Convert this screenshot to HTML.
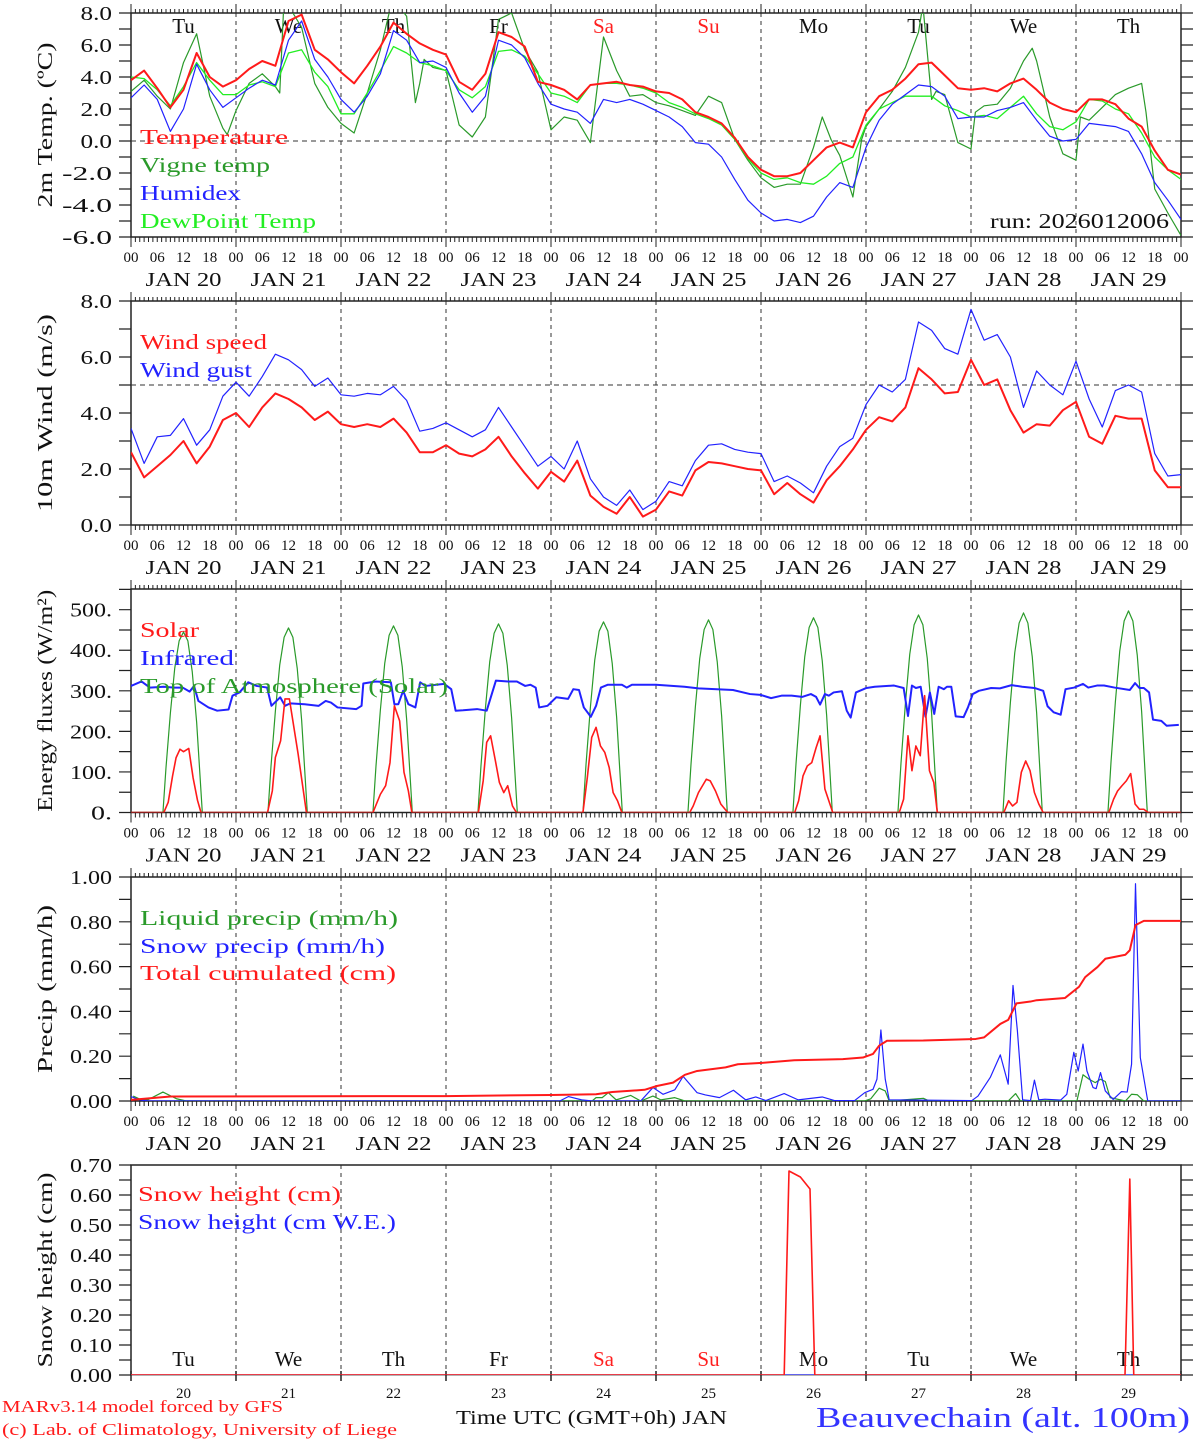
<!DOCTYPE html>
<html><head><meta charset="utf-8"><title>MAR forecast Beauvechain</title>
<style>
html,body{margin:0;padding:0;background:#fff;}
svg{display:block;font-family:"Liberation Serif",serif;}
</style></head>
<body>
<svg id="chart" width="1194" height="1440" viewBox="0 0 1194 1440" xmlns="http://www.w3.org/2000/svg"></svg>
<script>
// ---------- DATA ----------
const dayNames=['Tu','We','Th','Fr','Sa','Su','Mo','Tu','We','Th'];
const dayNums=[20,21,22,23,24,25,26,27,28,29];
const hourLabels=['00','06','12','18'];
// panel 1 (3-hourly, h0..h240)
const tempVals=[3.8,4.4,3.3,2.1,3.2,5.5,4.0,3.4,3.8,4.5,5.0,4.7,7.5,7.9,5.7,5.1,4.3,3.6,4.7,5.9,7.4,6.7,6.1,5.7,5.4,3.7,3.2,4.2,6.8,6.5,5.9,3.7,3.5,3.2,2.6,3.5,3.6,3.7,3.5,3.4,3.1,
3.0,2.6,1.8,1.5,1.1,0.2,-1.0,-1.8,-2.2,-2.2,-2.0,-1.2,-0.4,-0.1,-0.4,1.8,2.8,3.2,3.9,4.8,4.9,4.1,3.3,3.2,3.3,3.1,3.6,3.9,3.2,2.4,2.0,1.8,2.6,2.6,2.3,1.4,0.9,-0.6,-1.8,-2.1];
const dewVals=[4.0,3.9,3.2,2.2,3.4,4.9,3.8,2.9,2.9,3.5,3.7,3.4,5.5,5.7,4.3,3.4,1.7,1.7,3.0,4.4,5.9,5.5,4.9,4.7,4.4,3.2,2.7,3.4,5.6,5.7,5.3,4.2,3.0,2.8,2.4,3.5,3.6,3.6,3.5,3.3,3.0,
2.4,2.1,1.7,1.4,1.0,0.1,-1.1,-2.0,-2.4,-2.3,-2.6,-2.7,-2.2,-1.4,-1.0,1.0,2.0,2.4,2.8,2.8,2.8,2.2,1.9,1.5,1.6,1.4,2.1,2.8,1.7,0.9,0.7,1.2,2.6,2.5,2.0,1.7,0.5,-1.0,-1.8,-2.4];
const humidexVals=[2.7,3.5,2.6,0.6,2.0,4.8,3.2,2.1,2.7,3.3,3.8,3.5,6.3,7.5,5.1,4.0,2.6,1.8,2.8,4.2,6.9,6.3,4.9,5.0,4.6,3.0,1.8,2.8,6.3,6.0,5.2,3.6,2.3,2.0,1.8,1.1,2.6,2.4,2.6,2.3,1.9,
1.5,0.9,-0.1,-0.2,-1.0,-2.4,-3.7,-4.5,-5.0,-4.9,-5.1,-4.7,-3.5,-2.6,-2.9,-0.4,1.3,2.3,2.9,3.5,3.4,2.8,1.4,1.5,1.5,1.9,2.1,2.4,1.3,0.3,0.0,0.1,1.1,1.0,0.9,0.6,-0.8,-2.6,-3.7,-4.9];
const vigneHours=[0,3,6,9,12,15,18,21,22,24,27,30,33,34,35,36,37,39,42,45,48,51,54,57,59,60,61,63,65,66,67,69,72,75,78,81,84,87,90,93,96,99,102,105,108,111,114,117,120,
123,126,129,132,135,138,141,144,147,150,153,156,158,160,162,165,167,168,171,174,177,180,181,183,184,186,189,192,193,195,198,201,204,206,207,210,213,216,217,219,222,225,228,231,232,234,237,240];
const vigneVals=[3.1,3.8,2.8,2.0,4.9,6.7,2.8,0.8,0.4,1.9,3.6,4.2,3.4,3.0,9,9,8,7.1,3.6,2.1,1.1,0.5,3.0,5.7,8,9,8.5,7.8,2.4,3.6,5.1,4.6,4.4,1.0,0.25,1.5,7.6,8.0,5.7,4.3,0.7,1.5,1.3,-0.1,6.5,4.4,2.8,2.9,2.4,
2.2,1.9,1.6,2.8,2.4,0.1,-1.2,-2.3,-2.9,-2.7,-2.7,-0.4,1.5,0.1,-0.9,-3.5,0.1,0.9,2.0,3.1,4.6,6.8,8.5,2.6,3.1,2.9,-0.1,-0.5,1.8,2.2,2.3,3.3,5.0,5.8,5.0,1.5,-0.8,-1.2,1.5,1.3,2.1,2.9,3.3,3.6,1.8,-3.0,-4.5,-5.9];
// panel 2 (3-hourly)
const windVals=[2.6,1.7,2.1,2.5,3.0,2.2,2.8,3.75,4.0,3.5,4.2,4.7,4.5,4.2,3.75,4.05,3.6,3.5,3.6,3.5,3.8,3.3,2.6,2.6,2.85,2.55,2.45,2.7,3.15,2.45,1.85,1.3,1.9,1.55,2.3,1.05,0.65,0.4,1.0,0.3,0.55,
1.2,1.05,1.95,2.25,2.2,2.1,2.0,1.95,1.1,1.5,1.1,0.8,1.6,2.1,2.7,3.4,3.85,3.7,4.2,5.6,5.2,4.7,4.75,5.9,5.0,5.2,4.1,3.3,3.6,3.55,4.1,4.4,3.15,2.9,3.9,3.8,3.8,1.95,1.35,1.35];
const gustVals=[3.45,2.2,3.15,3.2,3.8,2.85,3.4,4.6,5.1,4.6,5.3,6.1,5.9,5.55,4.95,5.25,4.65,4.6,4.7,4.65,4.95,4.45,3.35,3.45,3.65,3.4,3.15,3.4,4.2,3.5,2.8,2.1,2.45,2.0,3.0,1.65,1.0,0.7,1.25,0.55,0.85,
1.55,1.4,2.3,2.85,2.9,2.7,2.6,2.55,1.55,1.75,1.5,1.15,2.1,2.8,3.1,4.3,5.0,4.75,5.2,7.25,6.95,6.3,6.1,7.7,6.6,6.8,6.0,4.2,5.5,5.0,4.65,5.85,4.5,3.5,4.8,5.0,4.75,2.55,1.75,1.8];
// panel 3
const toaHourOfDay=[7.3,8,9,10,11,12,13,14,15,16.3];
const toaVals=[
[0,111,245,356,423,445,423,347,223,0],
[0,114,250,364,432,455,432,355,228,0],
[0,115,253,368,437,460,437,359,230,0],
[0,116,256,372,442,465,442,363,233,0],
[0,118,259,376,447,470,447,367,235,0],
[0,119,261,380,451,475,451,371,238,0],
[0,120,264,384,456,480,456,374,240,0],
[0,122,268,390,463,487,463,380,244,0],
[0,123,271,394,467,492,467,384,246,0],
[0,124,273,398,472,497,472,388,249,0]];
const solarHours=[0,7.5,8.5,9.5,10.3,11.2,12,13.2,14.2,15.2,16,31.2,32.3,33,34.2,35.2,36.2,38.2,40.1,55.3,57,58.2,59.2,60.2,61.4,62.4,63.4,64.2,
79.4,80.5,81.3,82.2,83.3,84.2,85.2,86.1,87.2,88.1,103.3,104.3,105.3,106.3,107.3,108.3,109.3,110.2,111.2,112.2,127.7,128.5,129.7,131.5,132.4,133.6,134.8,136.4,
151.7,152.6,153.6,154.6,155.6,156.6,157.5,158.6,159.5,160.4,175.6,176.6,177.6,178.5,179.4,180.4,181.4,182.5,183.5,184.3,199.5,200.6,201.5,202.5,203.5,204.5,205.5,206.5,207.5,208.5,
223.5,224.6,225.5,226.5,227.5,228.5,229.5,230.5,231.5,232.5,240];
const solarVals=[0,0,25,90,135,156,150,158,85,30,0,0,53,136,177,280,280,144,0,0,45,66,123,263,226,99,53,0,
0,78,173,189,127,74,49,66,16,0,0,86,185,210,164,148,111,49,29,0,0,16,49,82,78,53,21,0,
0,29,90,115,123,160,189,58,29,0,0,33,189,103,164,140,288,103,74,0,0,29,16,25,99,127,103,49,21,0,
0,33,53,66,78,96,21,8,8,0,0];
const irHours=[0,2.4,4.3,7.5,9.8,11.8,13.4,14.4,15.4,17.7,19.7,22.3,23.2,24.8,26.8,28.7,31.1,32.1,34.1,35.2,36.4,39.7,42.9,44.5,45.7,47.2,51.5,52.7,53.1,55.9,
59.4,60.2,61.1,62.2,63.4,65,66.1,67.3,71.6,73.2,74.2,75.9,79.1,81.3,83.4,86.2,88.2,90.1,91.3,92.5,93.3,95.2,97.2,99.9,101.1,102.4,103.5,105.1,106.3,107.4,
109,112.2,113.3,114.5,120,126.5,129.7,137.6,141.5,143.9,146.3,148.7,151,153.4,155.4,156.6,157.5,158.6,159.5,160.6,162.5,163.6,164.5,165.7,168.1,170,174.4,176.6,177.6,178.5,
179.4,180.5,181.6,182.6,183.6,184.6,185.8,186.5,187.5,188.5,190.3,191.3,192.4,193.8,196.6,198.6,201.3,203.7,206.5,208.5,209.5,210.9,212.5,213.6,215.6,217.6,218.8,220.8,222.4,224.8,
228.3,229.5,230.5,231.5,232.7,233.6,235.5,236.7,239.5];
const irVals=[312,323,308,310,308,308,298,312,275,259,251,254,288,296,321,312,308,263,284,263,269,267,263,275,271,259,255,263,318,323,
321,267,267,300,267,259,321,312,317,304,251,252,255,251,325,323,323,312,315,308,259,263,284,280,304,302,259,236,263,308,
315,315,308,315,315,310,306,302,292,290,282,288,288,285,292,285,266,292,288,296,299,251,234,296,307,310,313,307,238,313,
307,310,236,296,243,310,304,310,310,237,235,259,292,300,307,306,314,310,307,300,262,247,241,304,308,317,308,313,313,308,
302,319,307,307,296,229,226,214,216];
// panel 4
const cumHours=[0,9,72,96,106.3,110,117.4,120.2,123.9,126.6,129.4,135.9,138.7,144.2,151.6,162.7,167.3,169.6,171,172.8,181.1,193.1,195,198.7,200.5,202.4,205.6,207,213.5,216.7,218.1,220.9,222.7,227.3,228.3,229.6,231.5,240];
const cumVals=[0.005,0.02,0.022,0.027,0.03,0.04,0.05,0.067,0.082,0.117,0.134,0.15,0.164,0.17,0.182,0.187,0.194,0.21,0.247,0.269,0.27,0.277,0.284,0.344,0.362,0.436,0.444,0.45,0.46,0.51,0.553,0.598,0.635,0.653,0.673,0.785,0.804,0.804];
const snowPrHours=[0,2,4,98,100,103,105.4,116.5,119.3,121.6,124.3,126.2,129.4,131.3,134.5,137.7,140.5,142.8,145.1,149.3,152.5,158,160.8,165.4,167.7,169.6,170.5,171.4,172.4,173.3,
192.2,193.6,196.4,198.7,200.5,201.6,202.6,203.8,205.6,206.5,207.5,208.9,212.5,213.9,215.5,216.5,217.6,218.5,219.9,220.6,221.6,222.7,224.5,226.4,227.7,228.7,229.6,230.7,232.4,240];
const snowPrVals=[0.02,0.005,0,0,0.02,0.005,0,0,0.06,0.03,0.05,0.11,0.037,0.027,0.015,0.048,0.005,0.018,0.002,0.033,0.005,0.018,0.002,0.002,0.037,0.052,0.097,0.317,0.097,0.005,
0.002,0.022,0.105,0.206,0.075,0.516,0.314,0.005,0.002,0.093,0.005,0.008,0.004,0.03,0.217,0.134,0.254,0.134,0.06,0.055,0.127,0.045,0.007,0.042,0.04,0.164,0.97,0.194,0,0];
const liqHours=[0.5,2.4,3.8,7.3,10.4,12.6,105.4,106.3,107.7,109.1,110.9,114.2,116.5,119.3,121.1,124.3,126.6,167.7,169.1,171,172.4,173.3,181.1,182.5,200.5,202.2,203.3,216.2,217.6,219,220.4,221.6,222.7,223.8,227.3,228.7,230,231.5,240];
const liqVals=[0.022,0.005,0.005,0.04,0.01,0,0,0.015,0.015,0.037,0.005,0.025,0,0.022,0.005,0.015,0,0,0.01,0.057,0.045,0,0.012,0,0,0.033,0,0,0.117,0.097,0.082,0.097,0.087,0.015,0,0.03,0.028,0,0];
// panel 5
const snowHHours=[0,149.3,150.4,153,155.2,156.3,227.2,228.3,229.2,240];
const snowHVals=[0,0,0.68,0.66,0.62,0,0,0.653,0,0];
const snowWEHours=[0,240];
const snowWEVals=[0,0];

// ---------- DRAWING ----------
const NS='http://www.w3.org/2000/svg';
const svg=document.getElementById('chart');
function mk(tag,attrs,parent){const e=document.createElementNS(NS,tag);for(const k in attrs)e.setAttribute(k,attrs[k]);(parent||svg).appendChild(e);return e;}
function txt(str,attrs,parent){const e=mk('text',attrs,parent);e.textContent=str;return e;}
const X0=131,X1=1181;
function xOf(h){return X0+h*(X1-X0)/240;}
const panels=[
 {top:13,bot:237,min:-6,max:8,minor:1,major:2,fmt:v=>v.toFixed(1),title:'2m Temp. (ºC)',tl:165},
 {top:301,bot:525,min:0,max:8,minor:1,major:2,fmt:v=>v.toFixed(1),title:'10m Wind (m/s)',tl:198},
 {top:589,bot:812.5,min:0,max:551,minor:50,major:100,fmt:v=>v+'.',title:'Energy fluxes (W/m²)',tl:222},
 {top:877,bot:1101,min:0,max:1,minor:0.1,major:0.2,fmt:v=>v.toFixed(2),title:'Precip (mm/h)',tl:168},
 {top:1165,bot:1375,min:0,max:0.7,minor:0.05,major:0.1,fmt:v=>v.toFixed(2),title:'Snow height (cm)',tl:195}];
function yOf(p,v){const P=panels[p];return P.bot-(v-P.min)/(P.max-P.min)*(P.bot-P.top);}
const defs=mk('defs',{});
panels.forEach((P,i)=>{const c=mk('clipPath',{id:'clip'+i},defs);mk('rect',{x:X0,y:P.top,width:X1-X0,height:P.bot-P.top},c);});

function series(p,hours,vals,color,w,name){
  let d='';
  for(let i=0;i<vals.length;i++){d+=(i?'L':'M')+xOf(hours[i]).toFixed(2)+','+yOf(p,vals[i]).toFixed(2);}
  const e=mk('path',{d:d,fill:'none',stroke:color,'stroke-width':w,'stroke-linejoin':'round','clip-path':'url(#clip'+p+')'});
  
  
  return e;
}
function step3(n){const a=[];for(let i=0;i<n;i++)a.push(i*3);return a;}
const AX='#222';

panels.forEach((P,p)=>{
  const g=mk('g',{});
  
  
  for(let d=1;d<10;d++){
    const l=mk('line',{x1:xOf(d*24),x2:xOf(d*24),y1:P.top,y2:P.bot,stroke:'#333','stroke-width':1,'stroke-dasharray':'4,4'},g);
    
    
  }
  if(p<4){
    const r=mk('rect',{x:X0,y:P.top,width:X1-X0,height:P.bot-P.top,fill:'none',stroke:AX,'stroke-width':1.5},g);
    
    
    let d='';
    for(let h=0;h<=240;h++){
      const x=xOf(h).toFixed(2);
      const L=(h%24===0)?9:4;
      d+='M'+x+','+P.top+'v-'+L+'M'+x+','+P.bot+'v'+(h%24===0?10:5);
    }
    const t=mk('path',{d:d,stroke:AX,'stroke-width':1,fill:'none'},g);
    
    
    for(let d2=0;d2<10;d2++){
      for(let k=0;k<4;k++){
        const tl=txt(hourLabels[k],{x:xOf(d2*24+k*6),y:P.bot+25,'font-size':15,'text-anchor':'middle',fill:'#111'},g);
        
        
      }
      const dl=txt('JAN  '+dayNums[d2],{x:xOf(d2*24+12),y:P.bot+49,'font-size':20,'text-anchor':'middle',fill:'#111',textLength:76,lengthAdjust:'spacingAndGlyphs'},g);
      
      
    }
    const last=txt('00',{x:xOf(240),y:P.bot+25,'font-size':15,'text-anchor':'middle',fill:'#111'},g);
    
    
  } else {
    const f=mk('path',{d:'M'+X0+','+P.bot+'V'+P.top+'H'+X1+'V'+P.bot,fill:'none',stroke:AX,'stroke-width':1.5},g);
    
    
    const bl=mk('line',{x1:X0,x2:X1,y1:P.bot,y2:P.bot,stroke:'#999','stroke-width':1.5},g);
    
    
    let d='';
    for(let dd=0;dd<=10;dd++){const x=xOf(dd*24).toFixed(2);d+='M'+x+','+(P.bot-4)+'v10';}
    const t=mk('path',{d:d,stroke:AX,'stroke-width':1.5,fill:'none'},g);
    
    
    for(let d2=0;d2<10;d2++){
      const nl=txt(String(dayNums[d2]),{x:xOf(d2*24+12),y:P.bot+23,'font-size':15,'text-anchor':'middle',fill:'#111'},g);
      
      
    }
  }
  let d='';
  const n=Math.round((P.max-P.min)/P.minor+1e-6);
  for(let i=0;i<=n;i++){
    const v=P.min+i*P.minor;const y=yOf(p,v).toFixed(2);
    d+='M'+(X0-12)+','+y+'H'+X0+'M'+X1+','+y+'H'+(X1+12);
  }
  const yt=mk('path',{d:d,stroke:AX,'stroke-width':1.2,fill:'none'},g);
  
  
  const nm=Math.round((P.max-P.min)/P.major+1e-6);
  for(let i=0;i<=nm;i++){
    const v=Math.round((P.min+i*P.major)*1000)/1000;
    if(v>P.max+1e-9)continue;
    const s=P.fmt(v);
    const w=s.length*10.5+(s[0]==='-'?8:0);
    const yl=txt(s,{x:112,y:yOf(p,v)+7,'font-size':20,'text-anchor':'end',fill:'#111',textLength:w,lengthAdjust:'spacingAndGlyphs'},g);
    
    
  }
  const cy=(P.top+P.bot)/2;
  const yTitle=txt('',{x:0,y:0,'font-size':21,'text-anchor':'middle',fill:'#111',textLength:P.tl,lengthAdjust:'spacingAndGlyphs',transform:'translate(52,'+cy+') rotate(-90)'},g);
  yTitle.textContent=P.title;
  
  
});

const ref0=mk('line',{x1:X0,x2:X1,y1:yOf(0,0),y2:yOf(0,0),stroke:'#333','stroke-width':1,'stroke-dasharray':'5,4'});


const ref5=mk('line',{x1:X0,x2:X1,y1:yOf(1,5),y2:yOf(1,5),stroke:'#333','stroke-width':1,'stroke-dasharray':'5,4'});



[26+7,1359+7].forEach((yy,k)=>{
  for(let d=0;d<10;d++){
    const col=(dayNames[d]==='Sa'||dayNames[d]==='Su')?'#ff2020':'#111';
    const dl=txt(dayNames[d],{x:xOf(d*24+12),y:yy,'font-size':21,'text-anchor':'middle',fill:col});
    
    
  }
});

const RED='#ff1a1a',GRN='#2a9a2a',BLU='#2222ff',LIME='#22ee22';
const h81=step3(81);
series(0,vigneHours,vigneVals,GRN,1.2,'vigne-temp-line');
series(0,h81,dewVals,LIME,1.3,'dewpoint-line');
series(0,h81,humidexVals,BLU,1.2,'humidex-line');
series(0,h81,tempVals,RED,2,'temperature-line');
series(1,h81,gustVals,BLU,1.2,'wind-gust-line');
series(1,h81,windVals,RED,2,'wind-speed-line');
const toaH=[],toaV=[];
for(let d=0;d<10;d++){for(let i=0;i<toaHourOfDay.length;i++){toaH.push(d*24+toaHourOfDay[i]);toaV.push(toaVals[d][i]);}}
toaH.unshift(0);toaV.unshift(0);toaH.push(240);toaV.push(0);
series(2,toaH,toaV,GRN,1.2,'toa-solar-line');
series(2,irHours,irVals,BLU,2,'infrared-line');
series(2,solarHours,solarVals,RED,1.6,'solar-line');
series(3,liqHours,liqVals,GRN,1.2,'liquid-precip-line');
series(3,snowPrHours,snowPrVals,BLU,1.2,'snow-precip-line');
series(3,cumHours,cumVals,RED,2,'total-cumulated-line');
series(4,snowWEHours,snowWEVals,BLU,1.2,'snow-we-line');
series(4,snowHHours,snowHVals,RED,1.6,'snow-height-line');

function legend(str,x,yc,color,w,name){
  const e=txt(str,{x:x,y:yc+7,'font-size':21,fill:color,textLength:w,lengthAdjust:'spacingAndGlyphs'});
  
  
}
legend('Temperature',140,137,RED,148,'legend-temperature');
legend('Vigne temp',140,165,GRN,130,'legend-vigne-temp');
legend('Humidex',140,193,BLU,101,'legend-humidex');
legend('DewPoint Temp',140,221,LIME,176,'legend-dewpoint');
legend('run: 2026012006',990,221,'#111',179,'run-label');
legend('Wind speed',140,342,RED,127,'legend-wind-speed');
legend('Wind gust',140,370,BLU,112,'legend-wind-gust');
legend('Solar',140,630,RED,59,'legend-solar');
legend('Infrared',140,658,BLU,94,'legend-infrared');
legend('Top of Atmosphere (Solar)',140,686,GRN,308,'legend-toa');
legend('Liquid precip (mm/h)',140,918,GRN,258,'legend-liquid-precip');
legend('Snow precip (mm/h)',140,946,BLU,245,'legend-snow-precip');
legend('Total cumulated (cm)',140,973,RED,256,'legend-total-cumulated');
legend('Snow height (cm)',138,1194,RED,203,'legend-snow-height');
legend('Snow height (cm W.E.)',138,1222,BLU,258,'legend-snow-we');

const f1=txt('MARv3.14 model forced by GFS',{x:2,y:1412,'font-size':17,fill:RED,textLength:281,lengthAdjust:'spacingAndGlyphs'});


const f2=txt('(c) Lab. of Climatology, University of Liege',{x:2,y:1435,'font-size':17,fill:RED,textLength:395,lengthAdjust:'spacingAndGlyphs'});


const f3=txt('Time UTC (GMT+0h) JAN',{x:456,y:1424,'font-size':20,fill:'#111',textLength:271,lengthAdjust:'spacingAndGlyphs'});


const f4=txt('Beauvechain (alt. 100m)',{x:816,y:1427,'font-size':29,fill:'#3333ff',textLength:374,lengthAdjust:'spacingAndGlyphs'});


</script>
</body></html>
